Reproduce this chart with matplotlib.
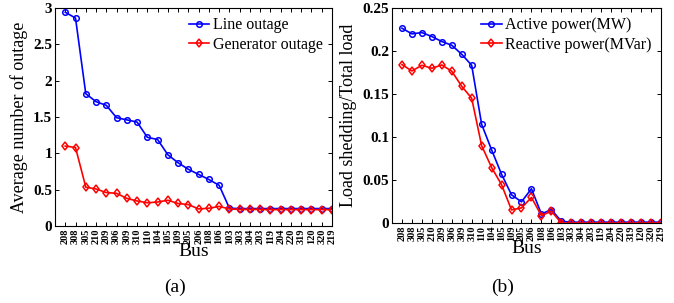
import numpy as np
import matplotlib
matplotlib.use('Agg')
import matplotlib.pyplot as plt

plt.rcParams['font.family'] = ['Liberation Serif', 'DejaVu Serif']

# Bus labels (same ordering for both panels)
buses = ['208', '308', '305', '210', '209', '306', '309', '310', '110', '104',
         '105', '109', '205', '206', '108', '106', '103', '303', '304', '203',
         '119', '204', '220', '319', '120', '320', '219']

# (a) average number of outages
line_outage = [2.94, 2.86, 1.82, 1.71, 1.66, 1.49, 1.46, 1.43, 1.22, 1.19,
               0.98, 0.87, 0.78, 0.71, 0.64, 0.56, 0.245, 0.24, 0.24, 0.24,
               0.24, 0.24, 0.24, 0.24, 0.24, 0.24, 0.24]
gen_outage = [1.10, 1.08, 0.535, 0.51, 0.46, 0.45, 0.38, 0.345, 0.32, 0.33,
              0.355, 0.31, 0.295, 0.235, 0.245, 0.27, 0.235, 0.228, 0.228, 0.228,
              0.226, 0.226, 0.226, 0.226, 0.226, 0.226, 0.226]

# (b) load shedding / total load
active_power = [0.2264, 0.2198, 0.2213, 0.2167, 0.2109, 0.2066, 0.1961, 0.1833, 0.1147, 0.085,
                0.0566, 0.0328, 0.0246, 0.0398, 0.0105, 0.0156, 0.002, 0.001, 0.001, 0.001,
                0.001, 0.001, 0.001, 0.001, 0.001, 0.001, 0.001]
reactive_power = [0.1841, 0.1767, 0.1833, 0.1798, 0.1837, 0.1764, 0.1589, 0.145, 0.0899, 0.0645,
                  0.0445, 0.0152, 0.0176, 0.0297, 0.0086, 0.0137, 0.0, 0.0, 0.0, 0.0,
                  0.0, 0.0, 0.0, 0.0, 0.0, 0.0, 0.0]

x = np.arange(1, len(buses) + 1)

fig = plt.figure(figsize=(6.74, 3.03), dpi=100)
ax1 = fig.add_axes([0.0816, 0.254, 0.411, 0.72])
ax2 = fig.add_axes([0.5816, 0.264, 0.399, 0.71])


def style_axis(ax, yticks, ylabels, ylim):
    ax.set_xlim(0, len(buses))
    ax.set_ylim(*ylim)
    ax.set_xticks(x)
    ax.set_xticklabels(buses, rotation=90, fontsize=7.5, fontweight='bold')
    ax.set_yticks(yticks)
    ax.set_yticklabels(ylabels, fontsize=11, fontweight='bold')
    ax.tick_params(direction='in', top=True, right=True, length=3, width=0.7, pad=2)
    ax.tick_params(axis='x', pad=2)
    for s in ax.spines.values():
        s.set_linewidth(0.8)
    ax.set_xlabel('Bus', fontsize=14, labelpad=-1)


ax1.plot(x, line_outage, color='blue', marker='o', ms=4, mfc='none', mew=1.1, lw=1.2,
         label='Line outage')
ax1.plot(x, gen_outage, color='red', marker='d', ms=4.5, mfc='none', mew=1.1, lw=1.2,
         label='Generator outage')
style_axis(ax1, [0, 0.5, 1, 1.5, 2, 2.5, 3], ['0', '0.5', '1', '1.5', '2', '2.5', '3'], (0, 3))
ax1.set_ylabel('Average number of outage', fontsize=13, labelpad=4)
ax1.legend(loc='upper right', frameon=False, fontsize=11.5, handlelength=1.3,
           handletextpad=0.2, borderaxespad=0.2, labelspacing=0.2)

ax2.plot(x, active_power, color='blue', marker='o', ms=4, mfc='none', mew=1.1, lw=1.2,
         label='Active power(MW)')
ax2.plot(x, reactive_power, color='red', marker='d', ms=4.5, mfc='none', mew=1.1, lw=1.2,
         label='Reactive power(MVar)')
style_axis(ax2, [0, 0.05, 0.1, 0.15, 0.2, 0.25], ['0', '0.05', '0.1', '0.15', '0.2', '0.25'],
           (0, 0.25))
ax2.set_ylabel('Load shedding/Total load', fontsize=13, labelpad=4)
ax2.legend(loc='upper right', frameon=False, fontsize=11.5, handlelength=1.3,
           handletextpad=0.2, borderaxespad=0.2, labelspacing=0.2)

fig.text(0.26, 0.035, '(a)', fontsize=14, ha='center')
fig.text(0.745, 0.035, '(b)', fontsize=14, ha='center')

fig.savefig('out.png', dpi=100)
